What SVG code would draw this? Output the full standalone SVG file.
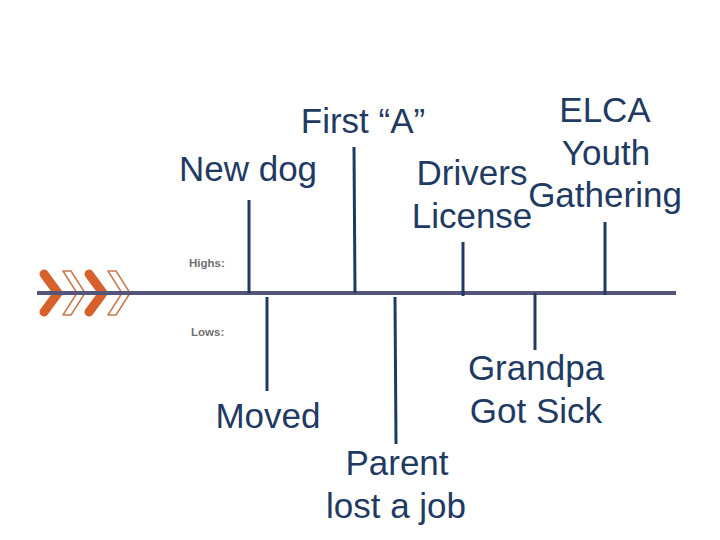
<svg xmlns="http://www.w3.org/2000/svg" width="720" height="540" viewBox="0 0 720 540">
<style>
.lbl{font-family:"Liberation Sans",Arial,sans-serif;font-size:35px;fill:#1f3b63;text-anchor:middle}
.small{font-family:"Liberation Sans",Arial,sans-serif;font-size:11.5px;font-weight:bold;fill:#707070}
.tick{stroke:#1f3b63;stroke-width:3;fill:none}
.chf{fill:none;stroke:#d6612c;stroke-width:9;stroke-linecap:round;stroke-linejoin:round}
.cho{fill:#fff;stroke:#c9784f;stroke-width:1.5;stroke-linejoin:round}
</style>
<rect width="720" height="540" fill="#fff"/>
<g id="arrowhead">
<polyline class="chf" points="44,274 58,293 44,312"/>
<polygon class="cho" points="63,271 71,271 85,293 71,315 63,315 77,293"/>
<polyline class="chf" points="89,274 103,293 89,312"/>
<polygon class="cho" points="108,271 116,271 130,293 116,315 108,315 122,293"/>
</g>
<g id="timeline">
<line x1="37" y1="293" x2="676" y2="293" stroke="#55557a" stroke-width="4"/>
<text class="small" x="189" y="267">Highs:</text>
<text class="small" x="191" y="336">Lows:</text>
</g>
<g id="connectors">
<line class="tick" x1="249" y1="200" x2="249" y2="293"/>
<line class="tick" x1="354" y1="147" x2="355" y2="293"/>
<line class="tick" x1="463" y1="242" x2="463" y2="296"/>
<line class="tick" x1="605" y1="222" x2="605" y2="295"/>
<line class="tick" x1="267" y1="297" x2="267" y2="391"/>
<line class="tick" x1="395" y1="297" x2="396" y2="444"/>
<line class="tick" x1="535" y1="293" x2="535" y2="350"/>
</g>
<g id="new-dog"><text class="lbl" x="248" y="181">New dog</text></g>
<g id="first-a"><text class="lbl" x="363" y="133">First “A”</text></g>
<g id="drivers-license"><text class="lbl" x="472" y="185">Drivers</text><text class="lbl" x="472" y="228">License</text></g>
<g id="elca"><text class="lbl" x="605" y="122">ELCA</text><text class="lbl" x="606" y="165">Youth</text><text class="lbl" x="605" y="207">Gathering</text></g>
<g id="moved"><text class="lbl" x="268" y="428">Moved</text></g>
<g id="parent"><text class="lbl" x="397" y="475">Parent</text><text class="lbl" x="396" y="518">lost a job</text></g>
<g id="grandpa"><text class="lbl" x="536" y="380">Grandpa</text><text class="lbl" x="536" y="423">Got Sick</text></g>
</svg>
